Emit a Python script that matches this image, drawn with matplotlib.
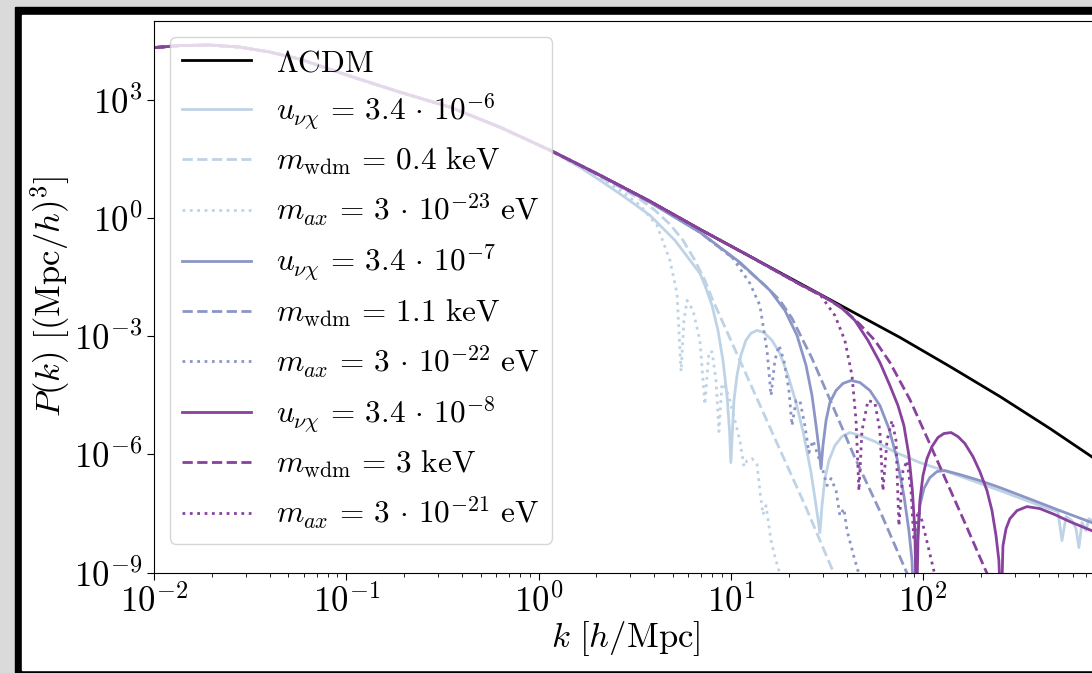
import numpy as np
import matplotlib.pyplot as plt
from matplotlib.patches import Rectangle

plt.rcParams['mathtext.fontset'] = 'cm'
plt.rcParams['font.family'] = 'serif'
plt.rcParams['font.serif'] = ['cmr10', 'DejaVu Serif']
plt.rcParams['axes.formatter.use_mathtext'] = True

# log10 k [h/Mpc] and log10 P(k) [(Mpc/h)^3]
lk_lcdm = np.array([-2.000, -1.865, -1.709, -1.553, -1.397, -1.241, -0.981, -0.721, -0.461,
                    -0.201, 0.059, 0.319, 0.579, 0.839, 1.099, 1.359, 1.619, 1.879, 2.139,
                    2.399, 2.659, 2.919])
lp_lcdm = np.array([4.325, 4.376, 4.389, 4.338, 4.211, 4.033, 3.601, 3.194, 2.813,
                    2.305, 1.721, 1.085, 0.424, -0.287, -0.974, -1.660, -2.346, -3.032, -3.770,
                    -4.531, -5.344, -6.200])

# u_nuchi = 3.4e-6
lk_u6 = np.array([0.215, 0.319, 0.449, 0.579, 0.709, 0.839, 0.865, 0.902, 0.933, 0.959, 0.980,
                  0.993, 1.000, 1.016, 1.032, 1.052, 1.078, 1.104, 1.136, 1.172, 1.214, 1.255,
                  1.297, 1.339, 1.380, 1.417, 1.443, 1.463, 1.474, 1.489, 1.510, 1.541, 1.578,
                  1.619, 1.671, 1.749, 1.859, 1.983, 2.139, 2.399, 2.607, 2.701, 2.722, 2.743,
                  2.774, 2.795, 2.810, 2.826, 2.847, 2.862, 2.893])
lp_u6 = np.array([1.288, 0.958, 0.526, 0.069, -0.567, -1.405, -1.710, -2.219, -2.854, -3.616,
                  -4.506, -5.396, -6.209, -4.633, -3.997, -3.489, -3.108, -2.930, -2.854, -2.905,
                  -3.108, -3.438, -3.997, -4.684, -5.523, -6.463, -7.302, -7.988, -7.302, -6.616,
                  -6.158, -5.777, -5.548, -5.447, -5.523, -5.675, -5.955, -6.209, -6.463, -6.920,
                  -7.302, -7.455, -8.192, -7.581, -7.683, -7.886, -8.369, -7.733, -7.937, -7.632,
                  -7.733])
# m_wdm = 0.4 keV
lk_w04 = np.array([0.215, 0.319, 0.423, 0.527, 0.605, 0.683, 0.751, 0.813, 0.865, 0.902, 1.068,
                   1.229, 1.391, 1.552])
lp_w04 = np.array([1.313, 1.034, 0.780, 0.475, 0.196, -0.160, -0.567, -1.075, -1.583, -2.041,
                   -3.845, -5.599, -7.353, -9.208])
# m_ax = 3e-23 eV
lk_a23 = np.array([0.319, 0.423, 0.527, 0.616, 0.683, 0.720, 0.741, 0.756, 0.772, 0.803, 0.839,
                   0.865, 0.886, 0.902, 0.923, 0.938, 0.954, 0.975, 0.995, 1.021, 1.047, 1.068,
                   1.084, 1.110, 1.136, 1.151, 1.167, 1.183, 1.209, 1.229, 1.255, 1.281])
lp_a23 = np.array([1.034, 0.704, 0.323, -0.186, -1.075, -1.914, -3.896, -2.600, -2.092, -2.346,
                   -3.109, -4.735, -3.397, -3.397, -4.125, -5.421, -4.201, -4.328, -4.633, -5.142,
                   -5.650, -6.311, -6.159, -6.108, -6.260, -6.921, -7.531, -7.303, -8.192, -8.599,
                   -9.031, -9.463])

# u_nuchi = 3.4e-7
lk_u7 = np.array([0.579, 0.839, 1.047, 1.203, 1.281, 1.344, 1.391, 1.422, 1.443, 1.458, 1.469,
                  1.479, 1.495, 1.515, 1.547, 1.583, 1.625, 1.671, 1.723, 1.775, 1.822, 1.864,
                  1.900, 1.926, 1.942, 1.955, 1.968, 1.983, 2.004, 2.035, 2.072, 2.113, 2.191,
                  2.295, 2.399, 2.576, 2.711, 2.878, 2.919])
lp_u7 = np.array([0.394, -0.363, -1.126, -1.837, -2.346, -2.981, -3.743, -4.506, -5.269, -5.853,
                  -6.361, -5.777, -5.142, -4.684, -4.379, -4.201, -4.125, -4.176, -4.379, -4.760,
                  -5.345, -6.107, -7.048, -7.937, -8.699, -10.23, -8.194, -7.302, -6.870, -6.590,
                  -6.438, -6.412, -6.514, -6.666, -6.844, -7.174, -7.429, -7.734, -7.810])
# m_wdm = 1.1 keV
lk_w11 = np.array([0.839, 1.047, 1.177, 1.255, 1.318, 1.422, 1.531, 1.640, 1.786, 1.926, 1.957])
lp_w11 = np.array([-0.363, -1.151, -1.710, -2.092, -2.549, -3.565, -4.786, -6.031, -7.556,
                   -9.132, -9.513])
# m_ax = 3e-22 eV
lk_a22 = np.array([0.839, 1.011, 1.099, 1.151, 1.188, 1.209, 1.229, 1.250, 1.276, 1.302, 1.318,
                   1.339, 1.359, 1.385, 1.406, 1.427, 1.453, 1.479, 1.500, 1.521, 1.547, 1.567,
                   1.588, 1.604, 1.625, 1.640, 1.661, 1.687])
lp_a22 = np.array([-0.363, -1.024, -1.660, -2.219, -3.363, -4.507, -3.617, -3.236, -3.617, -4.379,
                   -5.269, -4.633, -4.633, -5.269, -5.955, -5.650, -6.031, -6.412, -6.793, -6.615,
                   -6.920, -7.556, -7.378, -7.937, -8.319, -8.598, -8.954, -9.335])

# u_nuchi = 3.4e-8
lk_u8 = np.array([1.359, 1.463, 1.567, 1.645, 1.713, 1.775, 1.827, 1.869, 1.900, 1.926, 1.944,
                  1.957, 1.965, 1.973, 1.983, 1.999, 2.020, 2.046, 2.077, 2.108, 2.145, 2.181,
                  2.217, 2.259, 2.295, 2.332, 2.358, 2.379, 2.394, 2.405, 2.415, 2.431, 2.451,
                  2.488, 2.540, 2.607, 2.685, 2.763, 2.878, 2.919])
lp_u8 = np.array([-1.685, -1.939, -2.244, -2.600, -3.108, -3.667, -4.252, -4.760, -5.269, -6.031,
                  -6.920, -7.937, -10.23, -8.194, -7.175, -6.540, -6.107, -5.802, -5.573, -5.472,
                  -5.447, -5.549, -5.726, -6.057, -6.438, -6.920, -7.429, -8.065, -8.700, -10.23,
                  -8.321, -7.889, -7.635, -7.429, -7.327, -7.378, -7.531, -7.709, -7.940, -8.016])
# m_wdm = 3 keV
lk_w3 = np.array([1.359, 1.515, 1.593, 1.671, 1.749, 1.827, 1.931, 2.020, 2.124, 2.228, 2.321,
                  2.373])
lp_w3 = np.array([-1.685, -2.094, -2.346, -2.701, -3.108, -3.667, -4.608, -5.573, -6.716, -7.860,
                  -8.902, -9.461])
# m_ax = 3e-21 eV
lk_a21 = np.array([1.359, 1.463, 1.541, 1.593, 1.630, 1.651, 1.666, 1.682, 1.713, 1.749, 1.775,
                   1.791, 1.812, 1.838, 1.859, 1.874, 1.895, 1.916, 1.937, 1.952, 1.973, 1.994,
                   2.025, 2.056, 2.087])
lp_a21 = np.array([-1.685, -1.939, -2.475, -3.110, -4.000, -5.144, -6.923, -5.398, -4.636, -4.687,
                   -5.398, -6.923, -5.653, -5.144, -5.653, -7.813, -6.416, -6.162, -6.923, -8.194,
                   -7.432, -7.686, -8.322, -8.958, -9.466])

light = '#bfd3e6'
mid = '#8c96c6'
dark = '#88419d'


def on_lcdm(lk, lp):
    # model curves coincide with LCDM on large scales
    m = lk_lcdm < lk[0]
    return 10**np.concatenate([lk_lcdm[m], lk]), 10**np.concatenate([lp_lcdm[m], lp])


fig = plt.figure(figsize=(10.92, 6.73), dpi=100, facecolor='#dadada')
fig.patches.append(Rectangle((15/1092, 0), 1, 666/673, transform=fig.transFigure,
                             color='black', zorder=-10))
fig.patches.append(Rectangle((22/1092, 3/673), 1, 655/673, transform=fig.transFigure,
                             color='white', zorder=-9))

ax = fig.add_axes([154/1092, 100.5/673, 942.8/1092, 551.5/673])

lw = 2.0
ax.loglog(10**lk_lcdm, 10**lp_lcdm, color='black', lw=lw, label=r'$\Lambda\mathrm{CDM}$')

models = [
    (lk_u6, lp_u6, light, '-', r'$u_{\nu\chi}\,=\,3.4\,\cdot\,10^{-6}$'),
    (lk_w04, lp_w04, light, '--', r'$m_{\rm wdm}\,=\,0.4\ {\rm keV}$'),
    (lk_a23, lp_a23, light, ':', r'$m_{ax}\,=\,3\,\cdot\,10^{-23}\ {\rm eV}$'),
    (lk_u7, lp_u7, mid, '-', r'$u_{\nu\chi}\,=\,3.4\,\cdot\,10^{-7}$'),
    (lk_w11, lp_w11, mid, '--', r'$m_{\rm wdm}\,=\,1.1\ {\rm keV}$'),
    (lk_a22, lp_a22, mid, ':', r'$m_{ax}\,=\,3\,\cdot\,10^{-22}\ {\rm eV}$'),
    (lk_u8, lp_u8, dark, '-', r'$u_{\nu\chi}\,=\,3.4\,\cdot\,10^{-8}$'),
    (lk_w3, lp_w3, dark, '--', r'$m_{\rm wdm}\,=\,3\ {\rm keV}$'),
    (lk_a21, lp_a21, dark, ':', r'$m_{ax}\,=\,3\,\cdot\,10^{-21}\ {\rm eV}$'),
]
for lk, lp, c, ls, lab in models:
    k, p = on_lcdm(lk, lp)
    ax.plot(k, p, color=c, ls=ls, lw=lw, label=lab)

ax.set_xlim(1e-2, 800)
ax.set_ylim(1e-9, 1e5)
ax.set_yticks([1e-9, 1e-6, 1e-3, 1e0, 1e3])
ax.yaxis.set_minor_locator(plt.NullLocator())
ax.tick_params(labelsize=25, length=5)
ax.tick_params(which='minor', length=3)

ax.set_xlabel(r'$k\ [h/{\rm Mpc}]$', fontsize=25)
ax.set_ylabel(r'$P(k)\ [({\rm Mpc}/h)^3]$', fontsize=25)
ax.xaxis.set_label_coords(0.5, -0.085)
ax.yaxis.set_label_coords(-0.087, 0.5)

ax.legend(loc='upper left', fontsize=22.5, framealpha=0.8, edgecolor='0.8',
          handlelength=2.2, handletextpad=0.8, labelspacing=0.46)

fig.savefig('out.png', dpi=100, facecolor=fig.get_facecolor())
